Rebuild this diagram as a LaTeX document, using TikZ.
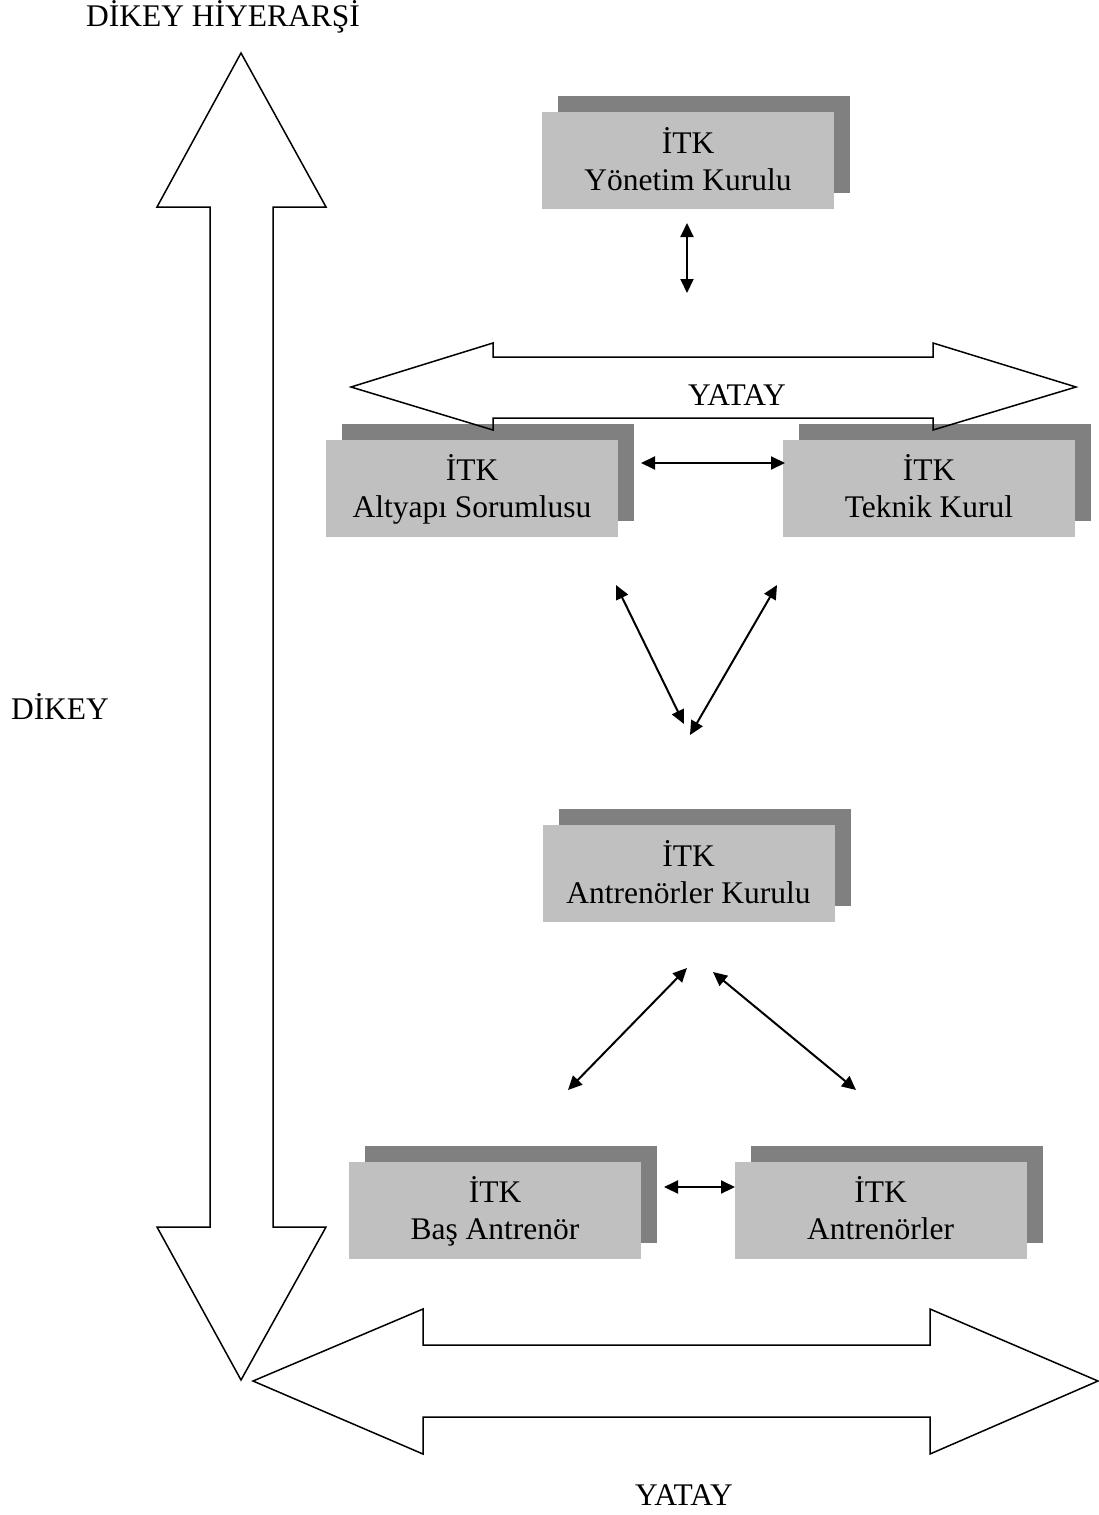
\documentclass[tikz,border=0pt]{standalone}
\usepackage{fontspec}
\setmainfont{Liberation Serif}
\usetikzlibrary{arrows.meta,shadows}
\definecolor{boxgray}{HTML}{C0C0C0}
\definecolor{shadowgray}{HTML}{808080}
% fixed line height so every box sets its two lines at the same baselines
\newcommand\linestrut{\rule[-7pt]{0pt}{36pt}}
\newcommand\twolines[2]{\linestrut#1\\\linestrut#2}
\begin{document}
\begin{tikzpicture}[x=1pt,y=-1pt,
  orgbox/.style={fill=boxgray, minimum width=292pt, minimum height=97pt,
    inner sep=0pt, align=center, font=\fontsize{31.5}{37}\selectfont,
    general shadow={fill=shadowgray, shadow xshift=16pt, shadow yshift=16pt}},
  plaintext/.style={font=\fontsize{31.5}{37}\selectfont, anchor=base, inner sep=0pt},
  link/.style={line width=2pt,
    {Triangle[length=14pt,width=13pt]}-{Triangle[length=14pt,width=13pt]}},
  blockarrow/.style={draw, line width=1.5pt, line join=miter}]
\useasboundingbox (0,0) rectangle (1099,1515);

% organisation boxes
\node[orgbox] (yk) at (688,160.5) {\twolines{İTK}{Yönetim Kurulu}};
\node[orgbox] (as) at (472,488) {\twolines{İTK}{Altyapı Sorumlusu}};
\node[orgbox] (tk) at (929,488) {\twolines{İTK}{Teknik Kurul}};
\node[orgbox] (ak) at (688.5,873.5) {\twolines{İTK}{Antrenörler Kurulu}};
\node[orgbox] (ba) at (495,1210) {\twolines{İTK}{Baş Antrenör}};
\node[orgbox] (an) at (880.5,1210) {\twolines{İTK}{Antrenörler}};

% vertical hierarchy block arrow
\draw[blockarrow] (241,53) -- (326,207) -- (273,207) -- (273,1227) -- (326,1227)
  -- (241,1380) -- (157,1227) -- (210,1227) -- (210,207) -- (157,207) -- cycle;

% upper horizontal block arrow
\draw[blockarrow] (351,387) -- (493,343) -- (493,357) -- (933,357) -- (933,343)
  -- (1076,387) -- (933,430) -- (933,418) -- (493,418) -- (493,430) -- cycle;

% lower horizontal block arrow
\draw[blockarrow] (253,1381) -- (423,1309) -- (423,1345) -- (930,1345) -- (930,1309)
  -- (1098,1381) -- (930,1454) -- (930,1417) -- (423,1417) -- (423,1454) -- cycle;

% labels
\node[plaintext] (dh) at (223,27) {DİKEY HİYERARŞİ};
\node[plaintext] (dk) at (60,719) {DİKEY};
\node[plaintext] (y1) at (737,405) {YATAY};
\node[plaintext] (y2) at (684,1505) {YATAY};

% connector end points
\coordinate (yk-s) at (687,223);
\coordinate (yk-t) at (687,293);
\coordinate (as-e) at (641,463);
\coordinate (tk-w) at (785,463);
\coordinate (as-s) at (616,585);
\coordinate (ak-n1) at (684,724);
\coordinate (tk-s) at (777,585);
\coordinate (ak-n2) at (690,735);
\coordinate (ak-s1) at (687,968);
\coordinate (ba-n) at (568,1090);
\coordinate (ak-s2) at (713,972);
\coordinate (an-n) at (856,1090);
\coordinate (ba-e) at (664,1187);
\coordinate (an-w) at (735,1187);

% connectors
\draw[link] (yk-s) -- (yk-t);
\draw[link] (as-e) -- (tk-w);
\draw[link] (as-s) -- (ak-n1);
\draw[link] (tk-s) -- (ak-n2);
\draw[link] (ak-s1) -- (ba-n);
\draw[link] (ak-s2) -- (an-n);
\draw[link] (ba-e) -- (an-w);
\end{tikzpicture}
\end{document}
